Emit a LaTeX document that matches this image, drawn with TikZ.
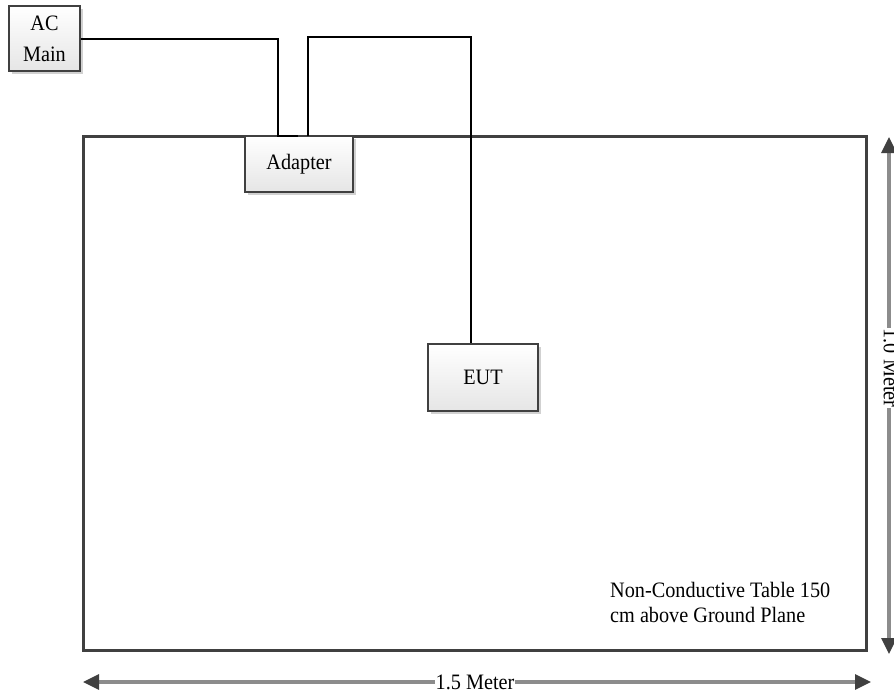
\documentclass[tikz,border=0pt]{standalone}
\usepackage{fontspec}
\setmainfont{Liberation Serif}[FakeStretch=0.92]
\usetikzlibrary{shadows,arrows.meta}
\definecolor{edge}{HTML}{404040}
\definecolor{dimline}{HTML}{8C8C8C}
\tikzset{
  unitbox/.style={draw=edge, line width=1.8pt, top color=white, bottom color=black!10,
    drop shadow={shadow xshift=2.5pt, shadow yshift=-2.5pt, fill=black!30, opacity=0.6},
    inner sep=0pt, font=\fontsize{22}{31}\selectfont, align=center},
  wire/.style={draw=black, line width=1.6pt},
  dimarrow/.style={draw=dimline, line width=3.2pt,
    {Triangle[length=16pt,width=15pt,fill=edge,color=edge]}-{Triangle[length=16pt,width=15pt,fill=edge,color=edge]}},
  dimlabel/.style={fill=white, inner sep=1pt, font=\fontsize{22}{25}\selectfont},
  plainlabel/.style={font=\fontsize{22}{25}\selectfont, align=left, inner sep=0pt}
}
\begin{document}
\begin{tikzpicture}[x=1pt,y=-1pt]
\useasboundingbox (0,0) rectangle (894,697);
% table
\node[draw=edge, line width=3pt, minimum width=783pt, minimum height=514pt, inner sep=0pt] (table) at (474.5,393) {};
% boxes
\node[unitbox, minimum width=71pt, minimum height=65pt] (ac) at (44.5,38.5) {AC\\Main};
\node[unitbox, minimum width=108pt, minimum height=56pt] (adapter) at (299,164) {Adapter};
\node[unitbox, minimum width=110pt, minimum height=67pt] (eut) at (483,377.5) {EUT};
% wires
\coordinate (a1) at (278,136);
\coordinate (a2) at (298,136);
\coordinate (b1) at (308,136);
\coordinate (c1) at (471,37);
\draw[wire] (ac.east |- 0,39) -| (a1) -- (a2);
\draw[wire] (b1) |- (c1) -- (eut.north -| c1);
% dimension arrows
\coordinate (h1) at (83,682);
\coordinate (h2) at (871,682);
\draw[dimarrow] (h1) -- (h2);
\node[dimlabel] (hl) at (475,682) {1.5 Meter};
\coordinate (v1) at (889,137);
\coordinate (v2) at (889,654);
\draw[dimarrow] (v1) -- (v2);
\node[dimlabel, rotate=-90] (vl) at (891,368) {1.0 Meter};
% note
\node[plainlabel, anchor=base west] (note) at (610,622) {Non-Conductive Table 150\\cm above Ground Plane};
\end{tikzpicture}
\end{document}
